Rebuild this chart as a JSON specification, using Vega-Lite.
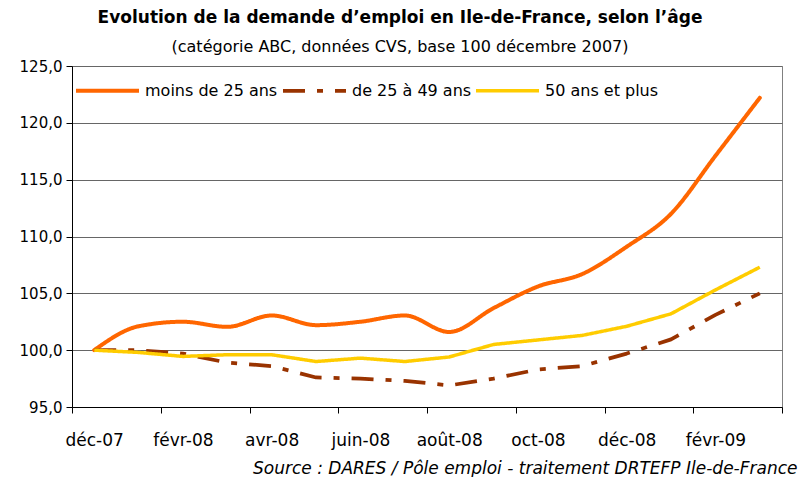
{
  "$schema": "https://vega.github.io/schema/vega-lite/v6.json",
  "width": 710,
  "height": 341,
  "autosize": "none",
  "padding": {"left": 72, "top": 66, "right": 17, "bottom": 70},
  "background": "white",
  "title": {
    "text": "Evolution de la demande d’emploi en Ile-de-France, selon l’âge",
    "subtitle": "(catégorie ABC, données CVS, base 100 décembre 2007)",
    "anchor": "middle",
    "dx": -27,
    "offset": 1,
    "font": "DejaVu Sans",
    "fontSize": 17,
    "fontWeight": "bold",
    "color": "#000000",
    "subtitleFont": "DejaVu Sans",
    "subtitleFontSize": 16,
    "subtitleColor": "#000000",
    "subtitlePadding": 12
  },
  "config": {
    "view": {"stroke": "#808080", "strokeWidth": 1},
    "axis": {"labelFont": "DejaVu Sans", "titleFont": "DejaVu Sans", "labelColor": "#000000", "domainColor": "#000000", "tickColor": "#000000"}
  },
  "data": {
    "values": [
      {"i": 0, "mois": "déc-07", "serie": "moins de 25 ans", "v": 100.0},
      {"i": 1, "mois": "janv-08", "serie": "moins de 25 ans", "v": 102.1},
      {"i": 2, "mois": "févr-08", "serie": "moins de 25 ans", "v": 102.5},
      {"i": 3, "mois": "mars-08", "serie": "moins de 25 ans", "v": 102.05},
      {"i": 4, "mois": "avr-08", "serie": "moins de 25 ans", "v": 103.05},
      {"i": 5, "mois": "mai-08", "serie": "moins de 25 ans", "v": 102.2},
      {"i": 6, "mois": "juin-08", "serie": "moins de 25 ans", "v": 102.5},
      {"i": 7, "mois": "juil-08", "serie": "moins de 25 ans", "v": 103.05},
      {"i": 8, "mois": "août-08", "serie": "moins de 25 ans", "v": 101.6},
      {"i": 9, "mois": "sept-08", "serie": "moins de 25 ans", "v": 103.7},
      {"i": 10, "mois": "oct-08", "serie": "moins de 25 ans", "v": 105.6},
      {"i": 11, "mois": "nov-08", "serie": "moins de 25 ans", "v": 106.7},
      {"i": 12, "mois": "déc-08", "serie": "moins de 25 ans", "v": 109.1},
      {"i": 13, "mois": "janv-09", "serie": "moins de 25 ans", "v": 112.0},
      {"i": 14, "mois": "févr-09", "serie": "moins de 25 ans", "v": 117.1},
      {"i": 15, "mois": "mars-09", "serie": "moins de 25 ans", "v": 122.2},
      {"i": 0, "mois": "déc-07", "serie": "de 25 à 49 ans", "v": 100.0},
      {"i": 1, "mois": "janv-08", "serie": "de 25 à 49 ans", "v": 100.0},
      {"i": 2, "mois": "févr-08", "serie": "de 25 à 49 ans", "v": 99.7},
      {"i": 3, "mois": "mars-08", "serie": "de 25 à 49 ans", "v": 98.9},
      {"i": 4, "mois": "avr-08", "serie": "de 25 à 49 ans", "v": 98.6},
      {"i": 5, "mois": "mai-08", "serie": "de 25 à 49 ans", "v": 97.6},
      {"i": 6, "mois": "juin-08", "serie": "de 25 à 49 ans", "v": 97.5},
      {"i": 7, "mois": "juil-08", "serie": "de 25 à 49 ans", "v": 97.3},
      {"i": 8, "mois": "août-08", "serie": "de 25 à 49 ans", "v": 96.9},
      {"i": 9, "mois": "sept-08", "serie": "de 25 à 49 ans", "v": 97.5},
      {"i": 10, "mois": "oct-08", "serie": "de 25 à 49 ans", "v": 98.3},
      {"i": 11, "mois": "nov-08", "serie": "de 25 à 49 ans", "v": 98.6},
      {"i": 12, "mois": "déc-08", "serie": "de 25 à 49 ans", "v": 99.7},
      {"i": 13, "mois": "janv-09", "serie": "de 25 à 49 ans", "v": 100.95},
      {"i": 14, "mois": "févr-09", "serie": "de 25 à 49 ans", "v": 103.1},
      {"i": 15, "mois": "mars-09", "serie": "de 25 à 49 ans", "v": 105.0},
      {"i": 0, "mois": "déc-07", "serie": "50 ans et plus", "v": 100.0},
      {"i": 1, "mois": "janv-08", "serie": "50 ans et plus", "v": 99.8},
      {"i": 2, "mois": "févr-08", "serie": "50 ans et plus", "v": 99.45},
      {"i": 3, "mois": "mars-08", "serie": "50 ans et plus", "v": 99.6},
      {"i": 4, "mois": "avr-08", "serie": "50 ans et plus", "v": 99.6},
      {"i": 5, "mois": "mai-08", "serie": "50 ans et plus", "v": 99.0},
      {"i": 6, "mois": "juin-08", "serie": "50 ans et plus", "v": 99.3},
      {"i": 7, "mois": "juil-08", "serie": "50 ans et plus", "v": 99.0},
      {"i": 8, "mois": "août-08", "serie": "50 ans et plus", "v": 99.4},
      {"i": 9, "mois": "sept-08", "serie": "50 ans et plus", "v": 100.5},
      {"i": 10, "mois": "oct-08", "serie": "50 ans et plus", "v": 100.9},
      {"i": 11, "mois": "nov-08", "serie": "50 ans et plus", "v": 101.3},
      {"i": 12, "mois": "déc-08", "serie": "50 ans et plus", "v": 102.1},
      {"i": 13, "mois": "janv-09", "serie": "50 ans et plus", "v": 103.2},
      {"i": 14, "mois": "févr-09", "serie": "50 ans et plus", "v": 105.3},
      {"i": 15, "mois": "mars-09", "serie": "50 ans et plus", "v": 107.3}
    ]
  },
  "encoding": {
    "x": {
      "field": "i",
      "type": "quantitative",
      "scale": {"domain": [-0.5, 15.5], "nice": false, "zero": false},
      "axis": {
        "values": [-0.5, 0, 1.5, 2, 3.5, 4, 5.5, 6, 7.5, 8, 9.5, 10, 11.5, 12, 13.5, 14, 15.5],
        "labelExpr": "datum.value % 2 === 0 ? ['déc-07','févr-08','avr-08','juin-08','août-08','oct-08','déc-08','févr-09'][datum.value / 2] : ''",
        "tickOpacity": {"condition": {"test": "datum.value % 1 === 0", "value": 0}, "value": 1},
        "grid": false,
        "tickSize": 6,
        "labelPadding": 19,
        "labelFontSize": 17,
        "labelOverlap": false,
        "labelBound": false,
        "labelFlush": false,
        "title": "Source : DARES / Pôle emploi - traitement DRTEFP Ile-de-France",
        "titleFontStyle": "italic",
        "titleFontWeight": "normal",
        "titleFontSize": 17,
        "titleColor": "#000000",
        "titleAnchor": "end",
        "titleAlign": "right",
        "titleBaseline": "alphabetic",
        "titleX": 725,
        "titleY": 66
      }
    },
    "y": {
      "field": "v",
      "type": "quantitative",
      "scale": {"domain": [95, 125], "nice": false, "zero": false},
      "axis": {
        "values": [95, 100, 105, 110, 115, 120, 125],
        "labelExpr": "replace(format(datum.value, '.1f'), '.', ',')",
        "labelFontSize": 15,
        "labelPadding": 4,
        "tickSize": 6,
        "grid": true,
        "gridColor": "#666666",
        "gridOpacity": 1,
        "title": null
      }
    },
    "color": {
      "field": "serie",
      "type": "nominal",
      "scale": {"domain": ["moins de 25 ans", "de 25 à 49 ans", "50 ans et plus"], "range": ["#FF6600", "#993300", "#FFCC00"]},
      "legend": {
        "orient": "none",
        "legendX": 2,
        "legendY": -9,
        "direction": "horizontal",
        "title": null,
        "symbolType": "stroke",
        "symbolSize": 3969,
        "symbolStrokeWidth": 4,
        "labelFont": "DejaVu Sans",
        "labelFontSize": 16,
        "labelColor": "#000000",
        "labelOffset": 4,
        "columnPadding": -3
      }
    },
    "strokeDash": {
      "field": "serie",
      "type": "nominal",
      "scale": {"domain": ["moins de 25 ans", "de 25 à 49 ans", "50 ans et plus"], "range": [[1, 0], [22, 12, 6, 12], [1, 0]]},
      "legend": null
    },
    "strokeWidth": {
      "field": "serie",
      "type": "nominal",
      "scale": {"domain": ["moins de 25 ans", "de 25 à 49 ans", "50 ans et plus"], "range": [4, 3.5, 4]},
      "legend": null
    }
  },
  "layer": [
    {
      "transform": [{"filter": "datum.serie === 'moins de 25 ans'"}],
      "mark": {"type": "line", "interpolate": "monotone", "strokeCap": "round", "strokeJoin": "round"}
    },
    {
      "transform": [{"filter": "datum.serie !== 'moins de 25 ans'"}],
      "mark": {"type": "line", "strokeJoin": "round"}
    }
  ]
}
